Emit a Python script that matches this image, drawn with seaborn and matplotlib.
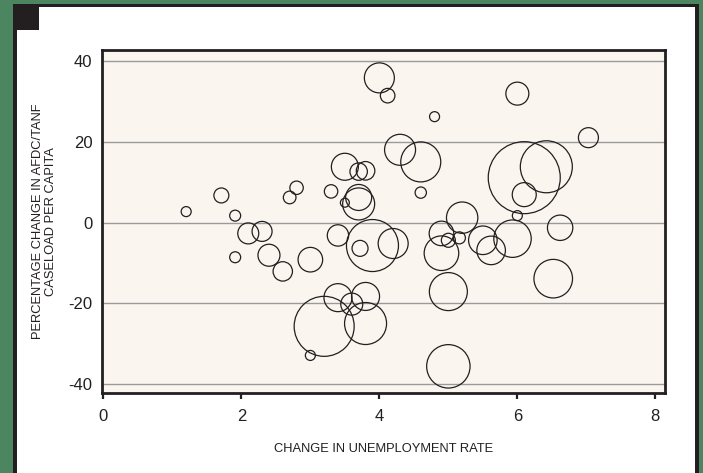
import numpy as np
import pandas as pd
import matplotlib.pyplot as plt
import seaborn as sns
from matplotlib.patches import Rectangle

# ============================================================
# DATA
# ============================================================
unemp_change = [4.0, 4.12, 4.8, 6.0, 7.03, 4.3, 4.6, 3.5, 3.7, 3.8,
                6.1, 6.42, 6.1, 6.0, 1.2, 1.71, 1.91, 2.1, 2.3, 1.91,
                2.4, 2.6, 3.0, 2.8, 2.7, 3.3, 4.6, 3.4, 3.7, 3.7,
                3.5, 3.9, 3.72, 4.2, 5.2, 4.9, 4.9, 5.0, 5.16, 5.0,
                3.4, 3.8, 3.6, 3.2, 3.8, 3.0, 5.0, 5.5, 5.62, 5.93,
                6.62, 6.52]
caseload_change = [35.8, 31.4, 26.2, 31.9, 21.0, 18.0, 15.0, 13.8, 12.6, 12.8,
                   11.1, 13.8, 6.9, 1.7, 2.7, 6.7, 1.7, -2.7, -2.2, -8.6,
                   -8.1, -12.1, -9.2, 8.6, 6.2, 7.7, 7.4, -3.2, 4.6, 6.2,
                   4.9, -5.7, -6.4, -5.2, 1.2, -2.7, -7.6, -4.4, -3.8, -17.1,
                   -18.6, -18.3, -20.2, -25.7, -25.0, -32.9, -35.6, -4.4, -6.9, -4.0,
                   -1.3, -13.9]
population = [225, 53, 25, 132, 100, 240, 400, 182, 76, 86,
              1296, 676, 144, 25, 25, 56, 30, 110, 100, 30,
              121, 94, 151, 45, 40, 45, 32, 114, 256, 169,
              20, 676, 64, 225, 246, 151, 299, 49, 36, 361,
              196, 196, 121, 900, 441, 25, 471, 204, 204, 350,
              161, 372]

x_ticks = [0, 2, 4, 6, 8]
y_ticks = [-40, -20, 0, 20, 40]

INK = '#231F20'
GREEN = '#4C8660'
CREAM = '#FAF6EF'

df = pd.DataFrame({'unemp': unemp_change, 'caseload': caseload_change, 'pop': population})

W, H = 703, 473
fig = plt.figure(figsize=(W / 100, H / 100), dpi=100)
fig.patch.set_facecolor(GREEN)

def px_rect(x0, y0, x1, y1, color):
    # pixel box (top-left origin) -> figure fraction rectangle
    fig.add_artist(Rectangle((x0 / W, 1 - y1 / H), (x1 - x0) / W, (y1 - y0) / H,
                             transform=fig.transFigure, facecolor=color,
                             edgecolor='none', zorder=-10))

px_rect(13, 4, 699, H + 5, INK)
px_rect(17, 7.5, 695, H + 5, 'white')
px_rect(13, 4, 39, 30, INK)

plt.rcParams['font.family'] = ['Liberation Sans', 'DejaVu Sans']

ax = fig.add_axes([102 / W, 1 - 393 / H, (665 - 102) / W, (393 - 50) / H])
ax.set_facecolor(CREAM)

sns.scatterplot(data=df, x='unemp', y='caseload', size='pop',
                sizes=(0, 2.0736 * 1296), size_norm=(0, 1296),
                legend=False, facecolor='none', edgecolor=INK,
                linewidth=0.9, ax=ax, zorder=3)
for coll in ax.collections:
    coll.set_facecolor('none')
    coll.set_edgecolor(INK)
    coll.set_linewidth(0.9)

ax.set_xlim(-0.02, 8.14)
ax.set_ylim(-42.2, 42.7)
ax.set_xticks(x_ticks)
ax.set_yticks(y_ticks)
ax.set_xticklabels([str(t) for t in x_ticks])
ax.set_yticklabels([str(t) for t in y_ticks])

ax.set_axisbelow(True)
ax.grid(axis='y', color='#9A9A9A', linewidth=1.0)
ax.grid(axis='x', visible=False)

for s in ax.spines.values():
    s.set_color(INK)
    s.set_linewidth(2.0)

ax.tick_params(axis='x', length=4.5, width=1.6, color=INK, pad=7,
               labelsize=12, labelcolor=INK, direction='out')
ax.tick_params(axis='y', length=0, pad=7, labelsize=12, labelcolor=INK)

ax.set_xlabel('CHANGE IN UNEMPLOYMENT RATE', fontsize=9.3, color=INK, labelpad=13.5)
ax.set_ylabel('PERCENTAGE CHANGE IN AFDC/TANF\nCASELOAD PER CAPITA',
              fontsize=9.3, color=INK, linespacing=1.1)
ax.yaxis.set_label_coords(-0.08, 0.5)

plt.savefig('out.png', dpi=100, facecolor=fig.get_facecolor())
